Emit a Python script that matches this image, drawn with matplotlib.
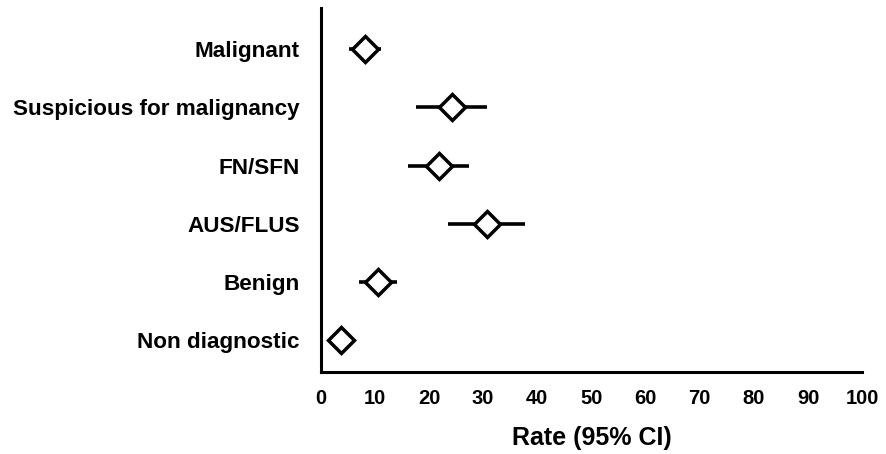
import matplotlib
matplotlib.use("Agg")
import matplotlib.pyplot as plt

categories = ["Non diagnostic", "Benign", "AUS/FLUS", "FN/SFN",
              "Suspicious for malignancy", "Malignant"]
rate = [3.7, 10.5, 30.7, 21.9, 24.2, 8.1]
ci_low = [1.8, 7.0, 23.6, 16.2, 17.6, 5.2]
ci_high = [5.6, 14.1, 37.8, 27.4, 30.8, 11.1]
xticks = [0, 10, 20, 30, 40, 50, 60, 70, 80, 90, 100]

plt.rcParams['font.family'] = ['Liberation Sans', 'DejaVu Sans']

fig = plt.figure(figsize=(8.86, 4.54), dpi=100)
ax = fig.add_axes([0.362, 0.18, 0.611, 0.802])

ypos = list(range(len(categories)))
xerr = [[r - l for r, l in zip(rate, ci_low)], [h - r for r, h in zip(rate, ci_high)]]
ax.errorbar(rate, ypos, xerr=xerr, fmt='none', ecolor='black', elinewidth=2.6,
            capsize=0, zorder=2)
ax.plot(rate, ypos, linestyle='none', marker='D', markersize=13,
        markerfacecolor='white', markeredgecolor='black', markeredgewidth=2.5, zorder=3)

ax.set_xlim(0, 100)
ax.set_ylim(-0.56, 5.71)
ax.set_xticks(xticks)
ax.set_xticklabels([str(t) for t in xticks], fontsize=14.5, fontweight='bold')
ax.set_yticks(ypos)
ax.set_yticklabels(categories, fontsize=16.2, fontweight='bold')
ax.tick_params(axis='both', length=0)
ax.tick_params(axis='x', pad=12)
ax.tick_params(axis='y', pad=15)
ax.set_xlabel("Rate (95% CI)", fontsize=18, fontweight='bold', labelpad=13)

for s in ['top', 'right']:
    ax.spines[s].set_visible(False)
for s in ['left', 'bottom']:
    ax.spines[s].set_linewidth(2.2)
    ax.spines[s].set_capstyle('projecting')

fig.savefig("out.png", dpi=100)
